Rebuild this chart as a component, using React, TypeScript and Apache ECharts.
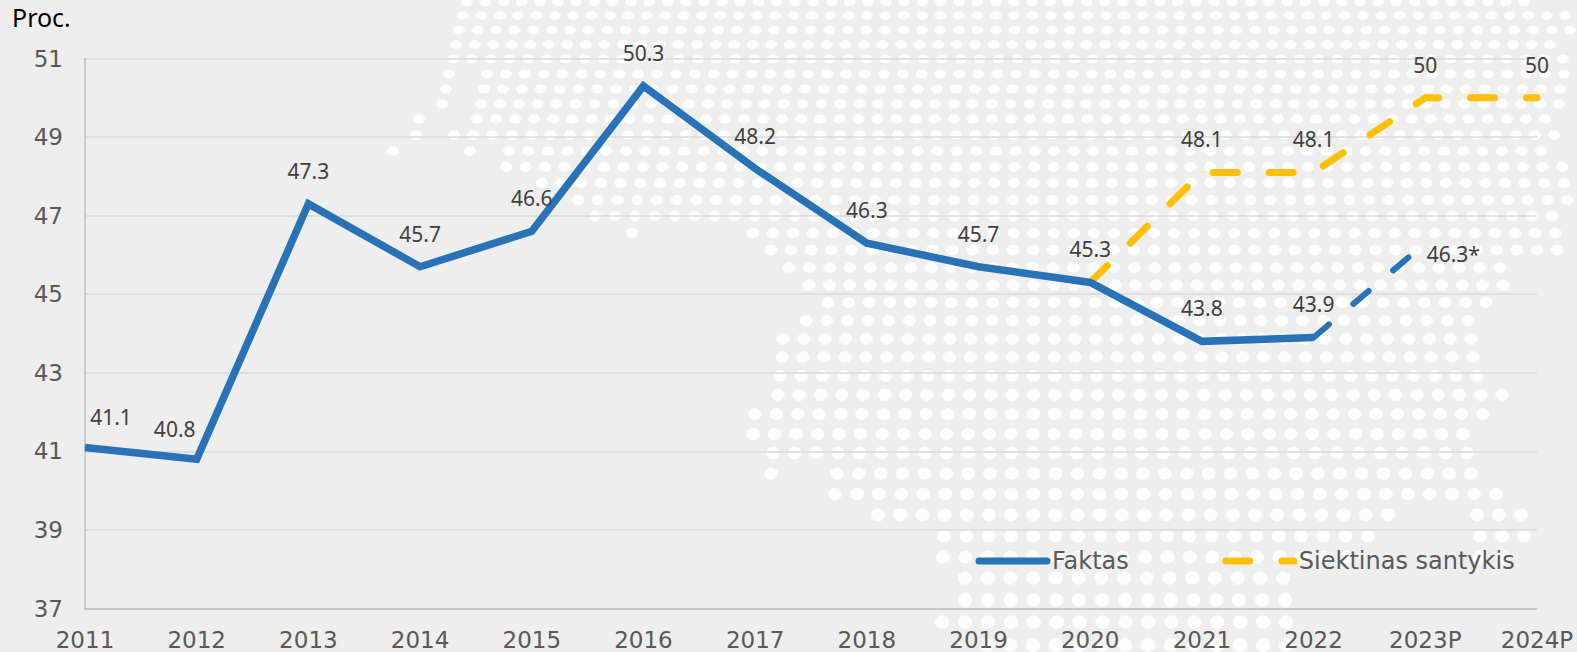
import React, { useEffect, useRef } from "react";
import * as echarts from "echarts";

const categories = ["2011","2012","2013","2014","2015","2016","2017","2018","2019","2020","2021","2022","2023P","2024P"];
const faktas = [41.1,40.8,47.3,45.7,46.6,50.3,48.2,46.3,45.7,45.3,43.8,43.9,null,null];
const faktasTesinys = [null,null,null,null,null,null,null,null,null,null,null,43.9,46.3,null];
const siektinas = [null,null,null,null,null,null,null,null,null,45.3,48.1,48.1,50,50];

// background dot map: y, spacing, first x, last x
const dotRows: number[][] = [
  [2,18.3,467,1524],[15.5,18.4,463,1565],[30,18.5,459,1570],[44.5,18.6,456,1550],[59,18.7,453,1563],
  [74,18.8,487,1564],[89,19,484,1560],[104,19,481,1559],[119,19.2,477,1545],[135,19.4,454,1554],
  [151,19.5,509,1541],[167,19.6,506,1562],[183,19.6,542,1564],[200,19.7,578,1567],[216,19.8,595,1552],
  [233,20,753,1555],[250,20.2,771,1557],[267.5,20.4,789,1500],[285,20.5,809,1503],[302.5,20.6,828,1486],
  [320.5,20.7,806,1468],[339,21,783,1471],[357,21,782,1473],[376,21.3,780,1477],[395,21.3,778,1502],
  [414,21.5,755,1483],[434,21.7,753,1463],[453,21.8,773,1467],[473.5,21.9,837,1471],[494,22,835,1496],
  [515,22.1,878,1388],[515,22,1477,1521],[536,22.3,944,1368],[536,22,1480,1524],[557,22.5,943,1347],[557,23,1480,1503],
  [578,22.6,965,1283],[600,22.8,965,1285],[622,23,942,1286],[645,23,987,1286],
];
const dotSingles: number[][] = [
  [449,74],[446,89],[442,104],[419,119],[416,135],[393,151],[470,151],[632,233],[771,473.5],
];

const FONT_AXIS = "DejaVu Sans";
const FONT_LABEL = "Noto Sans";

function dot(x: number, y: number) {
  return {
    type: "ellipse",
    silent: true,
    z: -10,
    shape: { cx: x, cy: y, rx: 5.8 + (1.4 * y) / 652, ry: 4.2 + (2.8 * y) / 652 },
    style: { fill: "#ffffff", opacity: 0.88 },
  };
}

function dotElements() {
  const out: any[] = [];
  for (const [y, step, x0, x1] of dotRows) {
    const n = Math.round((x1 - x0) / step);
    const s = (x1 - x0) / n;
    for (let k = 0; k <= n; k++) out.push(dot(x0 + k * s, y));
  }
  for (const [x, y] of dotSingles) out.push(dot(x, y));
  return out;
}

const labelBase = {
  show: true,
  position: "top",
  distance: 22,
  color: "#404040",
  fontFamily: FONT_LABEL,
  fontSize: 21,
};

const labelOffsets: Record<string, number[]> = { "2011": [26, 3], "2012": [-22, 3] };

export default function App() {
  const ref = useRef<HTMLDivElement>(null);
  useEffect(() => {
    const chart = echarts.init(ref.current!, null, { renderer: "svg" });
    chart.setOption({
      animation: false,
      backgroundColor: "#eeeeee",
      title: {
        text: "Proc.",
        left: 12,
        top: 4,
        padding: 0,
        textStyle: { color: "#000000", fontFamily: FONT_LABEL, fontSize: 25, fontWeight: "normal" },
      },
      graphic: { elements: dotElements() },
      legend: {
        data: ["Faktas", "Siektinas santykis"],
        left: 975.5,
        top: 549,
        itemWidth: 68,
        itemHeight: 28,
        itemGap: 93.5,
        padding: 0,
        itemStyle: { opacity: 0 },
        lineStyle: { width: 7, cap: "round" },
        textStyle: { color: "#595959", fontFamily: FONT_AXIS, fontSize: 24 },
      },
      grid: { left: 85, right: 40, top: 58.5, bottom: 43.5, containLabel: false, outerBoundsMode: "none" },
      xAxis: {
        type: "category",
        data: categories,
        boundaryGap: false,
        axisTick: { show: false },
        axisLine: { show: true, lineStyle: { color: "#bfbfbf", width: 1.5 } },
        axisLabel: {
          interval: 0,
          margin: 20,
          color: "#595959",
          fontFamily: FONT_AXIS,
          fontSize: 23,
          alignMinLabel: "center",
          alignMaxLabel: "center",
        },
        splitLine: { show: false },
      },
      yAxis: {
        type: "value",
        min: 37,
        max: 51,
        interval: 2,
        axisTick: { show: false },
        axisLine: { show: true, lineStyle: { color: "#bfbfbf", width: 1.5 } },
        axisLabel: { margin: 22, color: "#595959", fontFamily: FONT_AXIS, fontSize: 23 },
        splitLine: { show: true, lineStyle: { color: "#d9d9d9", width: 1.5 } },
      },
      series: [
        {
          name: "Siektinas santykis",
          type: "line",
          data: siektinas.map((v, i) => ({
            value: v,
            label: { show: i !== 9 },
          })),
          color: "#ffc000",
          symbol: "circle",
          symbolSize: 1,
          connectNulls: false,
          lineStyle: { color: "#ffc000", width: 7, type: [24, 32], cap: "round", join: "round" },
          label: { ...labelBase },
          z: 3,
        },
        {
          name: "Faktas tęsinys",
          type: "line",
          data: faktasTesinys.map((v, i) =>
            i === 12
              ? { value: v, label: { show: true, offset: [28, 44], formatter: "{c}*" } }
              : { value: v, label: { show: false } },
          ),
          color: "#2873b8",
          symbol: "circle",
          symbolSize: 1,
          itemStyle: { color: "transparent" },
          lineStyle: { color: "#2873b8", width: 6, type: [20, 32], cap: "round", join: "round" },
          label: { ...labelBase },
          z: 4,
        },
        {
          name: "Faktas",
          type: "line",
          data: faktas.map((v, i) => ({
            value: v,
            label: labelOffsets[categories[i]] ? { offset: labelOffsets[categories[i]] } : {},
          })),
          color: "#2873b8",
          symbol: "circle",
          symbolSize: 1,
          clip: false,
          lineStyle: { color: "#2873b8", width: 7.5, cap: "butt", join: "miter" },
          label: { ...labelBase },
          z: 5,
        },
      ],
    });
    return () => chart.dispose();
  }, []);
  return <div ref={ref} style={{ position: "fixed", left: 0, top: 0, width: 1577, height: 652 }} />;
}
